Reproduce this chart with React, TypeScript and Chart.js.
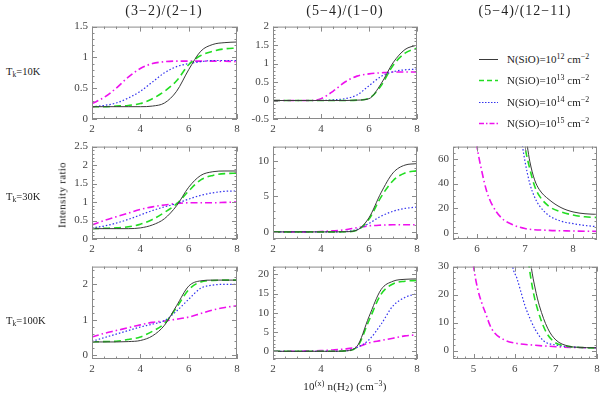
import React, { useEffect, useRef } from 'react';
import { Chart, registerables } from 'chart.js';

Chart.register(...registerables);

// ---------- data ----------
// log10 n(H2) sampling used for the (3-2)/(2-1) and (5-4)/(1-0) panels
const LOG_N = [2, 2.5, 3, 3.5, 4, 4.5, 5, 5.5, 6, 6.5, 7, 7.5, 8];

const SIO_EXPONENTS = ['12', '13', '14', '15'];
const COLUMN_TITLES = ['(3\u22122)/(2\u22121)', '(5\u22124)/(1\u22120)', '(5\u22124)/(12\u221211)'];
const ROW_TEMPS = ['10K', '30K', '100K'];

// Tk = 10 K, (3-2)/(2-1)
const T10_R32_N12 = [0.2, 0.2, 0.2, 0.2, 0.2, 0.21, 0.26, 0.45, 0.8, 1.1, 1.21, 1.24, 1.25];
const T10_R32_N13 = [0.2, 0.2, 0.21, 0.22, 0.25, 0.33, 0.45, 0.62, 0.88, 1.03, 1.1, 1.14, 1.15];
const T10_R32_N14 = [0.2, 0.22, 0.26, 0.34, 0.45, 0.6, 0.75, 0.85, 0.9, 0.93, 0.95, 0.95, 0.95];
const T10_R32_N15 = [0.25, 0.35, 0.5, 0.68, 0.82, 0.9, 0.93, 0.94, 0.94, 0.94, 0.94, 0.94, 0.93];

// Tk = 10 K, (5-4)/(1-0)
const T10_R54_N12 = [0, 0, 0, 0, 0, 0, 0, 0.01, 0.05, 0.45, 1.02, 1.38, 1.5];
const T10_R54_N13 = [0, 0, 0, 0, 0, 0, 0, 0.01, 0.06, 0.4, 0.95, 1.28, 1.42];
const T10_R54_N14 = [0, 0, 0, 0, 0, 0.02, 0.05, 0.15, 0.4, 0.65, 0.78, 0.83, 0.85];
const T10_R54_N15 = [0, 0, 0, 0, 0.05, 0.25, 0.5, 0.66, 0.72, 0.75, 0.77, 0.77, 0.77];

// Tk = 30 K, (3-2)/(2-1)
const T30_R32_N12 = [0.28, 0.28, 0.28, 0.28, 0.3, 0.38, 0.55, 0.9, 1.4, 1.72, 1.82, 1.84, 1.84];
const T30_R32_N13 = [0.28, 0.29, 0.3, 0.33, 0.4, 0.53, 0.72, 0.95, 1.3, 1.6, 1.72, 1.77, 1.78];
const T30_R32_N14 = [0.3, 0.35, 0.43, 0.53, 0.65, 0.77, 0.87, 0.96, 1.08, 1.18, 1.25, 1.29, 1.3];
const T30_R32_N15 = [0.38, 0.5, 0.6, 0.7, 0.8, 0.87, 0.92, 0.96, 0.98, 0.98, 0.98, 0.99, 1.0];

// Tk = 30 K, (5-4)/(1-0)
const T30_R54_N12 = [0, 0, 0, 0, 0, 0, 0.02, 0.25, 2.0, 5.5, 8.3, 9.4, 9.6];
const T30_R54_N13 = [0, 0, 0, 0, 0, 0, 0.02, 0.25, 1.8, 4.9, 7.2, 8.3, 8.6];
const T30_R54_N14 = [0, 0, 0, 0, 0, 0, 0.05, 0.35, 1.2, 2.2, 2.9, 3.3, 3.5];
const T30_R54_N15 = [0, 0, 0, 0, 0.05, 0.15, 0.3, 0.6, 0.85, 0.95, 1.0, 1.0, 1.0];

// Tk = 30 K, (5-4)/(12-11)
const T30_R5412_N12_X = [7.0, 7.05, 7.1, 7.2, 7.3, 7.5, 7.75, 8.0, 8.25, 8.5];
const T30_R5412_N12_Y = [85, 70, 58, 43, 35, 27, 20.5, 17, 15.5, 15];
const T30_R5412_N13_X = [6.95, 7.0, 7.1, 7.2, 7.3, 7.5, 7.75, 8.0, 8.25, 8.5];
const T30_R5412_N13_Y = [85, 70, 52, 38, 30, 21.5, 17, 14.5, 13, 12.5];
const T30_R5412_N14_X = [6.9, 6.95, 7.0, 7.1, 7.2, 7.3, 7.5, 7.75, 8.0, 8.25, 8.5];
const T30_R5412_N14_Y = [85, 70, 58, 40, 29, 22, 14, 9.5, 7.5, 6, 5];
const T30_R5412_N15_X = [5.95, 6.0, 6.1, 6.2, 6.3, 6.5, 6.75, 7.0, 7.5, 8.0, 8.5];
const T30_R5412_N15_Y = [85, 70, 50, 34, 24, 12.5, 6.5, 3.5, 2, 1.5, 1.2];

// Tk = 100 K, (3-2)/(2-1)
const T100_R32_N12 = [0.38, 0.38, 0.38, 0.39, 0.42, 0.55, 0.85, 1.4, 1.95, 2.1, 2.12, 2.12, 2.12];
const T100_R32_N13 = [0.38, 0.39, 0.4, 0.45, 0.52, 0.68, 0.9, 1.35, 1.85, 2.07, 2.11, 2.12, 2.12];
const T100_R32_N14 = [0.4, 0.5, 0.6, 0.7, 0.8, 0.88, 0.98, 1.25, 1.58, 1.89, 1.98, 2.0, 2.0];
const T100_R32_N15 = [0.52, 0.62, 0.7, 0.78, 0.86, 0.93, 0.97, 1.02, 1.08, 1.18, 1.28, 1.35, 1.4];

// Tk = 100 K, (5-4)/(1-0)
const T100_R54_N12 = [0, 0, 0, 0, 0, 0, 0.1, 1.3, 9, 16, 18.2, 18.7, 18.8];
const T100_R54_N13 = [0, 0, 0, 0, 0, 0, 0.1, 1.1, 8, 14.8, 17.5, 18.2, 18.4];
const T100_R54_N14 = [0, 0, 0, 0, 0, 0, 0.1, 1.0, 3, 7, 11.8, 14, 15];
const T100_R54_N15 = [0, 0, 0, 0.1, 0.2, 0.35, 0.6, 1.1, 2.2, 2.8, 3.4, 4, 4.3];

// Tk = 100 K, (5-4)/(12-11)
const T100_R5412_N12_X = [6.35, 6.4, 6.5, 6.6, 6.8, 7.0, 7.3, 7.5, 8.0];
const T100_R5412_N12_Y = [36, 30, 22, 16, 8, 3.8, 1.6, 1.2, 1.0];
const T100_R5412_N13_X = [6.3, 6.35, 6.45, 6.55, 6.75, 6.95, 7.3, 7.5, 8.0];
const T100_R5412_N13_Y = [36, 30, 21, 15, 7, 3.2, 1.5, 1.2, 0.9];
const T100_R5412_N14_X = [5.9, 5.95, 6.05, 6.15, 6.25, 6.4, 6.5, 6.7, 7.0, 7.5, 8.0];
const T100_R5412_N14_Y = [36, 30, 26, 21, 16, 10.5, 7.5, 3.5, 2, 1.2, 1.0];
const T100_R5412_N15_X = [4.95, 5.0, 5.1, 5.2, 5.3, 5.4, 5.5, 5.75, 6.0, 6.5, 7.0, 7.5, 8.0];
const T100_R5412_N15_Y = [36, 30, 22, 17, 13, 9, 6.5, 3.8, 2.7, 1.9, 1.4, 1.1, 1.0];

// tick labels
const X_TICKS_LEFT = [2, 4, 6, 8];
const X_TICKS_T30_RIGHT = [6, 7, 8];
const X_TICKS_T100_RIGHT = [5, 6, 7, 8];
const Y_TICKS_T10_R32 = [0, 0.5, 1, 1.5];
const Y_TICKS_T10_R54 = [-0.5, 0, 0.5, 1, 1.5, 2];
const Y_TICKS_T30_R32 = [0, 0.5, 1, 1.5, 2, 2.5];
const Y_TICKS_T30_R54 = [0, 5, 10];
const Y_TICKS_T30_R5412 = [0, 20, 40, 60];
const Y_TICKS_T100_R32 = [0, 1, 2];
const Y_TICKS_T100_R54 = [0, 5, 10, 15, 20];
const Y_TICKS_T100_R5412 = [0, 10, 20, 30];

// ---------- styles ----------
const FONT = "'Liberation Serif', 'Times New Roman', serif";
const FRAME_COLOR = '#8a8a8a';
const TICK_LABEL_COLOR = '#444';
const TEXT_COLOR = '#222';

const SERIES_STYLES = [
  { color: '#3a3a3a', width: 1, dash: [] as number[], svgDash: '' },
  { color: '#22dd22', width: 1.6, dash: [7, 4], svgDash: '5 3' },
  { color: '#3333ee', width: 1.2, dash: [1.5, 2], svgDash: '1.5 1.5' },
  { color: '#ee11ee', width: 1.6, dash: [7, 3, 1.5, 3], svgDash: '5 2 1.5 2' },
];

const COL_LEFT = [92, 273, 453];
const COL_W = [145, 144, 144];
const ROW_TOP = [24, 144, 264];
const ROW_H = 95;
const PAD_L = 36;
const PAD_T = 8;
const PAD_R = 8;
const PAD_B = 22;

type Series = { x: number[]; y: number[] };
type PanelCfg = {
  row: number;
  col: number;
  xMin: number; xMax: number; yMin: number; yMax: number;
  xTicks: number[]; yTicks: number[];
  xMinor: number; yMinor: number;
  series: Series[];
};

const std = (...ys: number[][]): Series[] => ys.map((y) => ({ x: LOG_N, y }));

const PANELS: PanelCfg[] = [
  { row: 0, col: 0, xMin: 2, xMax: 8, yMin: 0, yMax: 1.5, xTicks: X_TICKS_LEFT, yTicks: Y_TICKS_T10_R32, xMinor: 0.5, yMinor: 0.1,
    series: std(T10_R32_N12, T10_R32_N13, T10_R32_N14, T10_R32_N15) },
  { row: 0, col: 1, xMin: 2, xMax: 8, yMin: -0.5, yMax: 2, xTicks: X_TICKS_LEFT, yTicks: Y_TICKS_T10_R54, xMinor: 0.5, yMinor: 0.1,
    series: std(T10_R54_N12, T10_R54_N13, T10_R54_N14, T10_R54_N15) },
  { row: 1, col: 0, xMin: 2, xMax: 8, yMin: 0, yMax: 2.5, xTicks: X_TICKS_LEFT, yTicks: Y_TICKS_T30_R32, xMinor: 0.5, yMinor: 0.1,
    series: std(T30_R32_N12, T30_R32_N13, T30_R32_N14, T30_R32_N15) },
  { row: 1, col: 1, xMin: 2, xMax: 8, yMin: -1, yMax: 12, xTicks: X_TICKS_LEFT, yTicks: Y_TICKS_T30_R54, xMinor: 0.5, yMinor: 1,
    series: std(T30_R54_N12, T30_R54_N13, T30_R54_N14, T30_R54_N15) },
  { row: 1, col: 2, xMin: 5.5, xMax: 8.5, yMin: -5, yMax: 70, xTicks: X_TICKS_T30_RIGHT, yTicks: Y_TICKS_T30_R5412, xMinor: 0.2, yMinor: 5,
    series: [
      { x: T30_R5412_N12_X, y: T30_R5412_N12_Y },
      { x: T30_R5412_N13_X, y: T30_R5412_N13_Y },
      { x: T30_R5412_N14_X, y: T30_R5412_N14_Y },
      { x: T30_R5412_N15_X, y: T30_R5412_N15_Y },
    ] },
  { row: 2, col: 0, xMin: 2, xMax: 8, yMin: -0.1, yMax: 2.5, xTicks: X_TICKS_LEFT, yTicks: Y_TICKS_T100_R32, xMinor: 0.5, yMinor: 0.2,
    series: std(T100_R32_N12, T100_R32_N13, T100_R32_N14, T100_R32_N15) },
  { row: 2, col: 1, xMin: 2, xMax: 8, yMin: -2, yMax: 22, xTicks: X_TICKS_LEFT, yTicks: Y_TICKS_T100_R54, xMinor: 0.5, yMinor: 1,
    series: std(T100_R54_N12, T100_R54_N13, T100_R54_N14, T100_R54_N15) },
  { row: 2, col: 2, xMin: 4.5, xMax: 8, yMin: -3, yMax: 30, xTicks: X_TICKS_T100_RIGHT, yTicks: Y_TICKS_T100_R5412, xMinor: 0.2, yMinor: 2,
    series: [
      { x: T100_R5412_N12_X, y: T100_R5412_N12_Y },
      { x: T100_R5412_N13_X, y: T100_R5412_N13_Y },
      { x: T100_R5412_N14_X, y: T100_R5412_N14_Y },
      { x: T100_R5412_N15_X, y: T100_R5412_N15_Y },
    ] },
];

// frame with inward major/minor ticks on all four sides
const frameTicks = {
  id: 'frameTicks',
  afterDraw(chart: any, _args: any, opts: any) {
    const { ctx, chartArea } = chart;
    const { left, right, top, bottom } = chartArea;
    const xs = chart.scales.x;
    const ys = chart.scales.y;
    ctx.save();
    ctx.strokeStyle = FRAME_COLOR;
    ctx.lineWidth = 1;
    ctx.strokeRect(left + 0.5, top + 0.5, right - left - 1, bottom - top - 1);
    const isMajor = (v: number, majors: number[]) => majors.some((m) => Math.abs(m - v) < 1e-6);
    const MAJ = 5;
    const MIN = 2.5;
    ctx.beginPath();
    const xStart = Math.ceil((xs.min - 1e-9) / opts.xMinor);
    for (let k = xStart; k * opts.xMinor <= xs.max + 1e-9; k++) {
      const v = k * opts.xMinor;
      const px = Math.round(xs.getPixelForValue(v)) + 0.5;
      const len = isMajor(v, opts.xTicks) ? MAJ : MIN;
      ctx.moveTo(px, bottom); ctx.lineTo(px, bottom - len);
      ctx.moveTo(px, top); ctx.lineTo(px, top + len);
    }
    const yStart = Math.ceil((ys.min - 1e-9) / opts.yMinor);
    for (let k = yStart; k * opts.yMinor <= ys.max + 1e-9; k++) {
      const v = k * opts.yMinor;
      const py = Math.round(ys.getPixelForValue(v)) + 0.5;
      const len = isMajor(v, opts.yTicks) ? MAJ : MIN;
      ctx.moveTo(left, py); ctx.lineTo(left + len, py);
      ctx.moveTo(right, py); ctx.lineTo(right - len, py);
    }
    ctx.stroke();
    ctx.restore();
  },
};

function Panel({ cfg }: { cfg: PanelCfg }) {
  const ref = useRef<HTMLCanvasElement | null>(null);
  const w = COL_W[cfg.col] + PAD_L + PAD_R;
  const h = ROW_H + PAD_T + PAD_B;
  useEffect(() => {
    if (!ref.current) return;
    const tickFont = { family: FONT, size: 11 };
    const chart = new Chart(ref.current, {
      type: 'line',
      data: {
        datasets: cfg.series.map((s, i) => ({
          label: `N(SiO)=10^${SIO_EXPONENTS[i]}`,
          data: s.x.map((x, j) => ({ x, y: s.y[j] })),
          borderColor: SERIES_STYLES[i].color,
          borderWidth: SERIES_STYLES[i].width,
          borderDash: SERIES_STYLES[i].dash,
          pointRadius: 0,
          fill: false,
          cubicInterpolationMode: 'monotone' as const,
        })),
      },
      options: {
        responsive: false,
        animation: false,
        devicePixelRatio: 1,
        events: [],
        layout: { padding: { left: 0, top: PAD_T, right: PAD_R, bottom: 0 } },
        plugins: {
          legend: { display: false },
          tooltip: { enabled: false },
          frameTicks: { xTicks: cfg.xTicks, yTicks: cfg.yTicks, xMinor: cfg.xMinor, yMinor: cfg.yMinor },
        } as any,
        scales: {
          x: {
            type: 'linear',
            min: cfg.xMin,
            max: cfg.xMax,
            afterBuildTicks: (sc: any) => { sc.ticks = cfg.xTicks.map((v) => ({ value: v })); },
            afterFit: (sc: any) => { sc.height = PAD_B; },
            grid: { display: false, drawTicks: false },
            border: { display: false },
            ticks: { font: tickFont, color: TICK_LABEL_COLOR, padding: 4, maxRotation: 0, autoSkip: false, callback: (v: any) => String(v) },
          },
          y: {
            type: 'linear',
            min: cfg.yMin,
            max: cfg.yMax,
            afterBuildTicks: (sc: any) => { sc.ticks = cfg.yTicks.map((v) => ({ value: v })); },
            afterFit: (sc: any) => { sc.width = PAD_L; },
            grid: { display: false, drawTicks: false },
            border: { display: false },
            ticks: { font: tickFont, color: TICK_LABEL_COLOR, padding: 4, autoSkip: false, callback: (v: any) => String(v) },
          },
        },
      } as any,
      plugins: [frameTicks],
    });
    return () => chart.destroy();
  }, [cfg]);
  return (
    <canvas
      ref={ref}
      width={w}
      height={h}
      style={{ position: 'absolute', left: COL_LEFT[cfg.col] - PAD_L, top: ROW_TOP[cfg.row] - PAD_T, width: w, height: h }}
    />
  );
}

const supStyle: React.CSSProperties = { fontSize: '0.72em', verticalAlign: '0.45em', lineHeight: 0 };
const subStyle: React.CSSProperties = { fontSize: '0.72em', verticalAlign: '-0.25em', lineHeight: 0 };

function Label({ x, y, size, children, rotate, spacing }: { x: number; y: number; size: number; children: React.ReactNode; rotate?: boolean; spacing?: number }) {
  return (
    <div
      style={{
        position: 'absolute',
        left: x,
        top: y,
        transform: `translate(-50%, -50%)${rotate ? ' rotate(-90deg)' : ''}`,
        fontFamily: FONT,
        fontSize: size,
        color: TEXT_COLOR,
        whiteSpace: 'nowrap',
        lineHeight: 1,
        letterSpacing: spacing ?? 0,
      }}
    >
      {children}
    </div>
  );
}

const ROW_LABEL_Y = [72, 197, 321];
const COL_TITLE_X = [164, 345, 525];
const LEGEND_Y = [59, 80, 102, 123];

export default function App() {
  return (
    <div style={{ position: 'absolute', left: 0, top: 0, width: 600, height: 393, overflow: 'hidden', background: '#fff' }}>
      {PANELS.map((p, i) => <Panel key={i} cfg={p} />)}
      {COLUMN_TITLES.map((t, i) => (
        <Label key={t} x={COL_TITLE_X[i]} y={11} size={14} spacing={1}>{t}</Label>
      ))}
      {ROW_TEMPS.map((t, i) => (
        <div key={t} style={{ position: 'absolute', left: 6, top: ROW_LABEL_Y[i], transform: 'translateY(-50%)', fontFamily: FONT, fontSize: 10.5, color: TEXT_COLOR, whiteSpace: 'nowrap', lineHeight: 1 }}>
          T<span style={subStyle}>k</span>={t}
        </div>
      ))}
      <Label x={62} y={195} size={11} rotate spacing={0.3}>Intensity ratio</Label>
      <Label x={345} y={386} size={11} spacing={0.2}>
        10<span style={supStyle}>(x)</span> n(H<span style={subStyle}>2</span>) (cm<span style={supStyle}>{'\u22123'}</span>)
      </Label>
      {SIO_EXPONENTS.map((e, i) => (
        <div key={e} style={{ position: 'absolute', left: 479, top: LEGEND_Y[i], transform: 'translateY(-50%)', display: 'flex', alignItems: 'center', fontFamily: FONT, fontSize: 11, color: TEXT_COLOR, whiteSpace: 'nowrap', lineHeight: 1 }}>
          <svg width={20} height={6} style={{ marginRight: 8 }}>
            <line x1={0} y1={3} x2={19} y2={3} stroke={SERIES_STYLES[i].color} strokeWidth={SERIES_STYLES[i].width} strokeDasharray={SERIES_STYLES[i].svgDash || undefined} />
          </svg>
          <span>
            N(SiO)=10<span style={supStyle}>{e}</span> cm<span style={supStyle}>{'\u22122'}</span>
          </span>
        </div>
      ))}
    </div>
  );
}
